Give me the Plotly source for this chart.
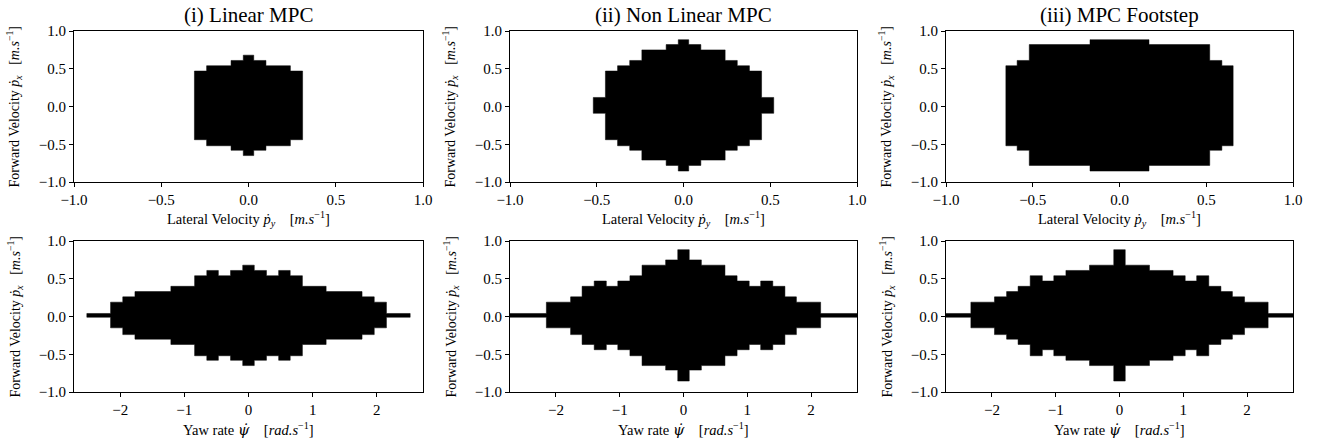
import plotly.graph_objects as go

# ---------------- data (column edges, top and bottom of feasible region) ----------------
titles = ["(i) Linear MPC", "(ii) Non Linear MPC", "(iii) MPC Footstep"]

# Top row: lateral velocity vs forward velocity
lin_lat_edges = [-0.31, -0.24, -0.10, -0.03, 0.03, 0.10, 0.24, 0.31]
lin_lat_top = [0.47, 0.54, 0.61, 0.68, 0.61, 0.54, 0.47]
lin_lat_bot = [-0.44, -0.52, -0.58, -0.65, -0.58, -0.52, -0.44]

nl_lat_edges = [-0.52, -0.45, -0.38, -0.31, -0.24, -0.10, -0.03, 0.03, 0.10, 0.24, 0.31, 0.38, 0.45, 0.52]
nl_lat_top = [0.12, 0.47, 0.54, 0.61, 0.75, 0.82, 0.885, 0.82, 0.75, 0.61, 0.54, 0.47, 0.12]
nl_lat_bot = [-0.09, -0.44, -0.52, -0.58, -0.71, -0.78, -0.855, -0.78, -0.71, -0.58, -0.52, -0.44, -0.09]

fs_lat_edges = [-0.655, -0.59, -0.52, -0.17, 0.17, 0.52, 0.59, 0.655]
fs_lat_top = [0.54, 0.61, 0.82, 0.885, 0.82, 0.61, 0.54]
fs_lat_bot = [-0.52, -0.58, -0.78, -0.855, -0.78, -0.58, -0.52]

# Bottom row: yaw rate vs forward velocity
lin_yaw_edges = [-2.52, -2.15, -1.96, -1.77, -1.21, -0.84, -0.65, -0.47, -0.28, -0.09,
                 0.09, 0.28, 0.47, 0.65, 0.84, 1.21, 1.77, 1.96, 2.15, 2.52]
lin_yaw_top = [0.04, 0.19, 0.26, 0.33, 0.40, 0.54, 0.61, 0.54, 0.61, 0.68,
               0.61, 0.54, 0.61, 0.54, 0.40, 0.33, 0.26, 0.19, 0.04]
lin_yaw_bot = [-0.01, -0.15, -0.24, -0.30, -0.37, -0.52, -0.58, -0.52, -0.58, -0.65,
               -0.58, -0.52, -0.58, -0.52, -0.37, -0.30, -0.24, -0.15, -0.01]

nl_yaw_edges = [-2.8, -2.15, -1.77, -1.59, -1.40, -1.21, -1.03, -0.84, -0.65, -0.28, -0.09,
                0.09, 0.28, 0.65, 0.84, 1.03, 1.21, 1.40, 1.59, 1.77, 2.15, 2.8]
nl_yaw_top = [0.04, 0.19, 0.26, 0.40, 0.47, 0.40, 0.47, 0.54, 0.68, 0.75, 0.885,
              0.75, 0.68, 0.54, 0.47, 0.40, 0.47, 0.40, 0.26, 0.19, 0.04]
nl_yaw_bot = [-0.01, -0.15, -0.24, -0.37, -0.44, -0.37, -0.44, -0.52, -0.65, -0.71, -0.855,
              -0.71, -0.65, -0.52, -0.44, -0.37, -0.44, -0.37, -0.24, -0.15, -0.01]

fs_yaw_edges = [-2.8, -2.33, -1.96, -1.77, -1.59, -1.40, -1.21, -1.03, -0.84, -0.47, -0.09,
                0.09, 0.47, 0.84, 1.03, 1.21, 1.40, 1.59, 1.77, 1.96, 2.33, 2.8]
fs_yaw_top = [0.04, 0.19, 0.26, 0.33, 0.40, 0.54, 0.47, 0.54, 0.61, 0.68, 0.885,
              0.68, 0.61, 0.54, 0.47, 0.54, 0.40, 0.33, 0.26, 0.19, 0.04]
fs_yaw_bot = [-0.01, -0.15, -0.24, -0.30, -0.37, -0.52, -0.44, -0.52, -0.58, -0.65, -0.855,
              -0.65, -0.58, -0.52, -0.44, -0.52, -0.37, -0.30, -0.24, -0.15, -0.01]

lat_ticks = [-1.0, -0.5, 0.0, 0.5, 1.0]
yaw_ticks = [-2, -1, 0, 1, 2]
fwd_ticks = [-1.0, -0.5, 0.0, 0.5, 1.0]

panels = [
    (lin_lat_edges, lin_lat_top, lin_lat_bot),
    (nl_lat_edges, nl_lat_top, nl_lat_bot),
    (fs_lat_edges, fs_lat_top, fs_lat_bot),
    (lin_yaw_edges, lin_yaw_top, lin_yaw_bot),
    (nl_yaw_edges, nl_yaw_top, nl_yaw_bot),
    (fs_yaw_edges, fs_yaw_top, fs_yaw_bot),
]


def outline(edges, top, bot):
    """Step outline of the region: along the tops left->right, back along the bottoms."""
    xs, ys = [], []
    for i in range(len(top)):
        xs += [edges[i], edges[i + 1]]
        ys += [top[i], top[i]]
    for i in reversed(range(len(bot))):
        xs += [edges[i + 1], edges[i]]
        ys += [bot[i], bot[i]]
    xs.append(xs[0])
    ys.append(ys[0])
    return xs, ys


# ---------------- layout geometry ----------------
W, H = 1317, 445
col_px = [(74, 423), (510, 857), (946, 1293)]
row_px = [(31, 182), (241, 392)]
FONT = "Liberation Serif"

fig = go.Figure()
layout = dict(
    width=W, height=H, margin=dict(l=0, r=0, t=0, b=0, pad=0, autoexpand=False),
    paper_bgcolor="white", plot_bgcolor="white", showlegend=False,
    font=dict(family=FONT, color="black", size=13),
)

PSI = '<span style="font-family:DejaVu Serif"><i>ψ̇</i></span>'
annotations = []
for i, (edges, top, bot) in enumerate(panels):
    r, c = divmod(i, 3)
    n = i + 1
    xa = "xaxis" if n == 1 else f"xaxis{n}"
    ya = "yaxis" if n == 1 else f"yaxis{n}"
    xr = "x" if n == 1 else f"x{n}"
    yr = "y" if n == 1 else f"y{n}"
    xs, ys = outline(edges, top, bot)
    fig.add_trace(go.Scatter(
        x=xs, y=ys, mode="lines", fill="toself", fillcolor="black",
        line=dict(color="black", width=0.5), xaxis=xr, yaxis=yr, hoverinfo="skip",
    ))
    x0, x1 = col_px[c]
    y0, y1 = row_px[r]
    common = dict(showline=True, linecolor="black", linewidth=1, mirror=True,
                  ticks="outside", ticklen=4, tickcolor="black", tickwidth=1, automargin=False,
                  showgrid=False, zeroline=False, tickfont=dict(family=FONT, size=15, color="black"))
    if r == 0:
        xaxis = dict(domain=[x0 / W, x1 / W], range=[-1, 1], tickvals=lat_ticks, tickformat=".1f", **common)
    else:
        xaxis = dict(domain=[x0 / W, x1 / W], range=[-2.72, 2.72], tickvals=yaw_ticks, tickformat="d", **common)
    yaxis = dict(domain=[1 - y1 / H, 1 - y0 / H], range=[-1, 1], tickvals=fwd_ticks, tickformat=".1f",
                 anchor=xr, **common)
    xaxis["anchor"] = yr
    layout[xa] = xaxis
    layout[ya] = yaxis

    # y-axis label
    annotations.append(dict(
        text="Forward Velocity <i>ṗ</i><sub><i>x</i></sub>   [<i>m.s</i><sup>−1</sup>]",
        xref="paper", yref="paper", x=(x0 - 59) / W, y=1 - (y0 + y1) / 2 / H,
        textangle=-90, showarrow=False, font=dict(family=FONT, size=14), xanchor="center", yanchor="middle"))
    # x-axis label
    if r == 0:
        xl = "Lateral Velocity <i>ṗ</i><sub><i>y</i></sub>    [<i>m.s</i><sup>−1</sup>]"
    else:
        xl = f"Yaw rate {PSI}    [<i>rad.s</i><sup>−1</sup>]"
    annotations.append(dict(
        text=xl, xref="paper", yref="paper", x=(x0 + x1) / 2 / W, y=1 - (y1 + 37) / H,
        showarrow=False, font=dict(family=FONT, size=14.5), xanchor="center", yanchor="middle"))
    if r == 0:
        annotations.append(dict(
            text=titles[c], xref="paper", yref="paper", x=(x0 + x1) / 2 / W, y=1 - 15 / H,
            showarrow=False, font=dict(family=FONT, size=21), xanchor="center", yanchor="middle"))

layout["annotations"] = annotations
fig.update_layout(**layout)
fig.write_html("out.html", config={"displayModeBar": False, "staticPlot": True},
               post_script="document.body.style.margin='0px';")
